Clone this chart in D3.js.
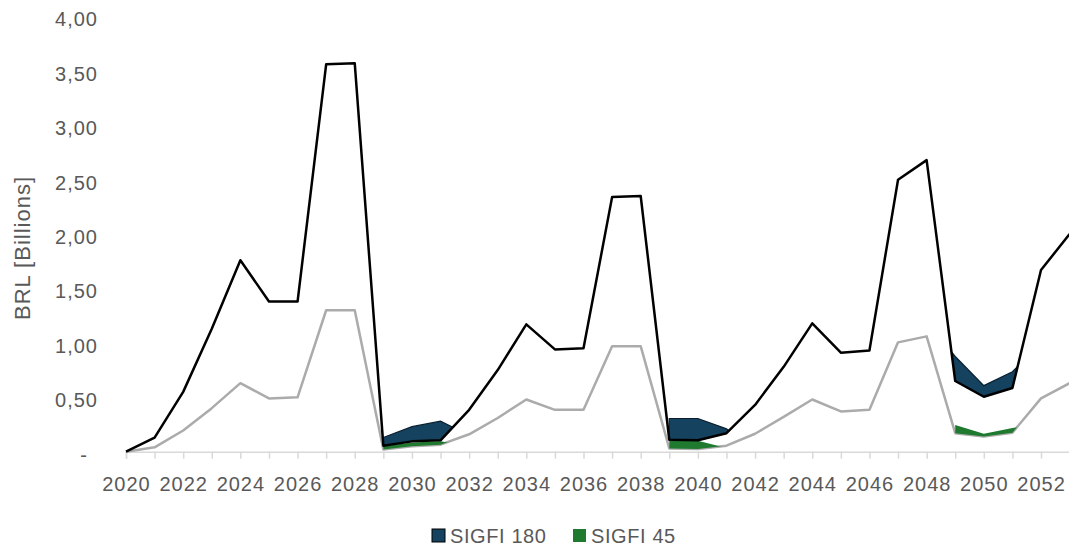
<!DOCTYPE html>
<html>
<head>
<meta charset="utf-8">
<script src="https://cdn.jsdelivr.net/npm/d3@7"></script>
<style>
  html, body { margin: 0; padding: 0; background: #fff; }
  svg { display: block; font-family: "Liberation Sans", Arial, sans-serif; }
</style>
</head>
<body>
<svg id="chart" width="1069" height="549"></svg>
<script>
const years = d3.range(2020, 2054);

// black line
const lineBlack = [0, 0.13, 0.55, 1.13, 1.76, 1.38, 1.38, 3.56, 3.57, 0.055,
  0.095, 0.105, 0.385, 0.75, 1.17, 0.94, 0.95, 2.34, 2.35, 0.11,
  0.105, 0.17, 0.43, 0.78, 1.18, 0.91, 0.93, 2.50, 2.68, 0.65,
  0.505, 0.585, 1.67, 2.00];

// grey line
const lineGray = [0, 0.04, 0.195, 0.40, 0.63, 0.49, 0.50, 1.30, 1.30, 0.02,
  0.05, 0.065, 0.16, 0.31, 0.48, 0.385, 0.385, 0.97, 0.97, 0.03,
  0.025, 0.055, 0.165, 0.32, 0.48, 0.37, 0.385, 1.005, 1.06, 0.17,
  0.14, 0.175, 0.49, 0.63];

// area series (only shown above the matching line)
const sigfi180 = [null, null, null, null, null, null, null, null, null, 0.13,
  0.23, 0.28, 0.15, null, null, null, null, null, null, 0.305,
  0.305, 0.21, 0, null, null, null, null, null, 1.2, 0.875,
  0.607, 0.735, 1.0, null];

const sigfi45 = [null, null, null, null, null, null, null, null, null, 0.05,
  0.085, 0.095, 0.05, null, null, null, null, null, null, 0.10,
  0.10, 0.035, null, null, null, null, null, null, null, 0.245,
  0.165, 0.218, 0.25, null];

const yTicks = [0, 0.5, 1, 1.5, 2, 2.5, 3, 3.5, 4];
const legendItems = ["SIGFI 180", "SIGFI 45"];

const blue = "#15435f";
const green = "#1f7a2f";
const textColor = "#595959";

const svg = d3.select("#chart");

const x = d3.scaleLinear().domain([2020, 2053]).range([126, 1069.6]);
const y = d3.scaleLinear().domain([0, 4]).range([451.7, 16.5]);

const rows = years.map((yr, i) => ({
  year: yr,
  black: lineBlack[i],
  gray: lineGray[i],
  s180: sigfi180[i],
  s45: sigfi45[i]
}));

// clip regions: above each line
const defs = svg.append("defs");
defs.append("clipPath").attr("id", "above-black")
  .append("path")
  .attr("d", d3.area().x(d => x(d.year)).y0(0).y1(d => y(d.black))(rows));
defs.append("clipPath").attr("id", "above-gray")
  .append("path")
  .attr("d", d3.area().x(d => x(d.year)).y0(0).y1(d => y(d.gray))(rows));

// x axis
const xAxis = svg.append("g")
  .attr("transform", `translate(0,${y(0)})`)
  .call(d3.axisBottom(x)
    .tickValues(years)
    .tickSize(7)
    .tickFormat(d => (d % 2 === 0 ? String(d) : "")));
xAxis.select(".domain").attr("stroke", "#d9d9d9").attr("stroke-width", 1.5);
xAxis.selectAll(".tick line").attr("stroke", "#d9d9d9").attr("stroke-width", 1.5);
xAxis.selectAll(".tick text")
  .attr("y", 39)
  .attr("dy", 0)
  .attr("fill", textColor)
  .attr("font-size", 20)
  .attr("letter-spacing", 1)
  .attr("font-family", "Liberation Sans, Arial, sans-serif");

const line = key => d3.line().x(d => x(d.year)).y(d => y(d[key]));

// grey line under the areas
svg.append("path").datum(rows)
  .attr("fill", "none").attr("stroke", "#ababab").attr("stroke-width", 2.5)
  .attr("stroke-linejoin", "round")
  .attr("d", line("gray"));

svg.append("path")
  .datum(rows)
  .attr("clip-path", "url(#above-gray)")
  .attr("fill", green)
  .attr("d", d3.area()
    .defined(d => d.s45 !== null)
    .x(d => x(d.year))
    .y0(y(0))
    .y1(d => y(d.s45)));

svg.append("path")
  .datum(rows)
  .attr("clip-path", "url(#above-black)")
  .attr("fill", blue)
  .attr("stroke", "#0a2030")
  .attr("stroke-width", 1.2)
  .attr("d", d3.area()
    .defined(d => d.s180 !== null)
    .x(d => x(d.year))
    .y0(y(0))
    .y1(d => y(d.s180)));

// black line on top
svg.append("path").datum(rows)
  .attr("fill", "none").attr("stroke", "#000").attr("stroke-width", 2.5)
  .attr("stroke-linejoin", "round")
  .attr("d", line("black"));

// y axis
const comma = d3.format(".2f");
const yAxis = svg.append("g")
  .attr("transform", "translate(98,0)")
  .call(d3.axisLeft(y)
    .tickValues(yTicks)
    .tickSize(0)
    .tickPadding(0)
    .tickFormat(d => (d === 0 ? "-" : comma(d).replace(".", ","))));
yAxis.select(".domain").remove();
yAxis.selectAll(".tick text")
  .attr("y", 3)
  .attr("dx", d => (d === 0 ? -10 : 0))
  .attr("fill", textColor)
  .attr("font-size", 20)
  .attr("letter-spacing", 1)
  .attr("font-family", "Liberation Sans, Arial, sans-serif");

svg.append("text")
  .attr("transform", "translate(30,248) rotate(-90)")
  .attr("text-anchor", "middle")
  .attr("fill", textColor)
  .attr("font-size", 22)
  .attr("letter-spacing", 1)
  .text("BRL [Billions]");

// legend
const legend = svg.append("g");
const legendX = [432, 573];
legendItems.forEach((name, i) => {
  legend.append("rect")
    .attr("x", legendX[i]).attr("y", 529)
    .attr("width", 13).attr("height", 13)
    .attr("fill", i === 0 ? blue : green)
    .attr("stroke", i === 0 ? "#000" : "none")
    .attr("stroke-width", 1);
  legend.append("text")
    .attr("x", legendX[i] + 18).attr("y", 543)
    .attr("fill", textColor)
    .attr("font-size", 20)
    .attr("letter-spacing", 0.6)
    .text(name);
});
</script>
</body>
</html>
